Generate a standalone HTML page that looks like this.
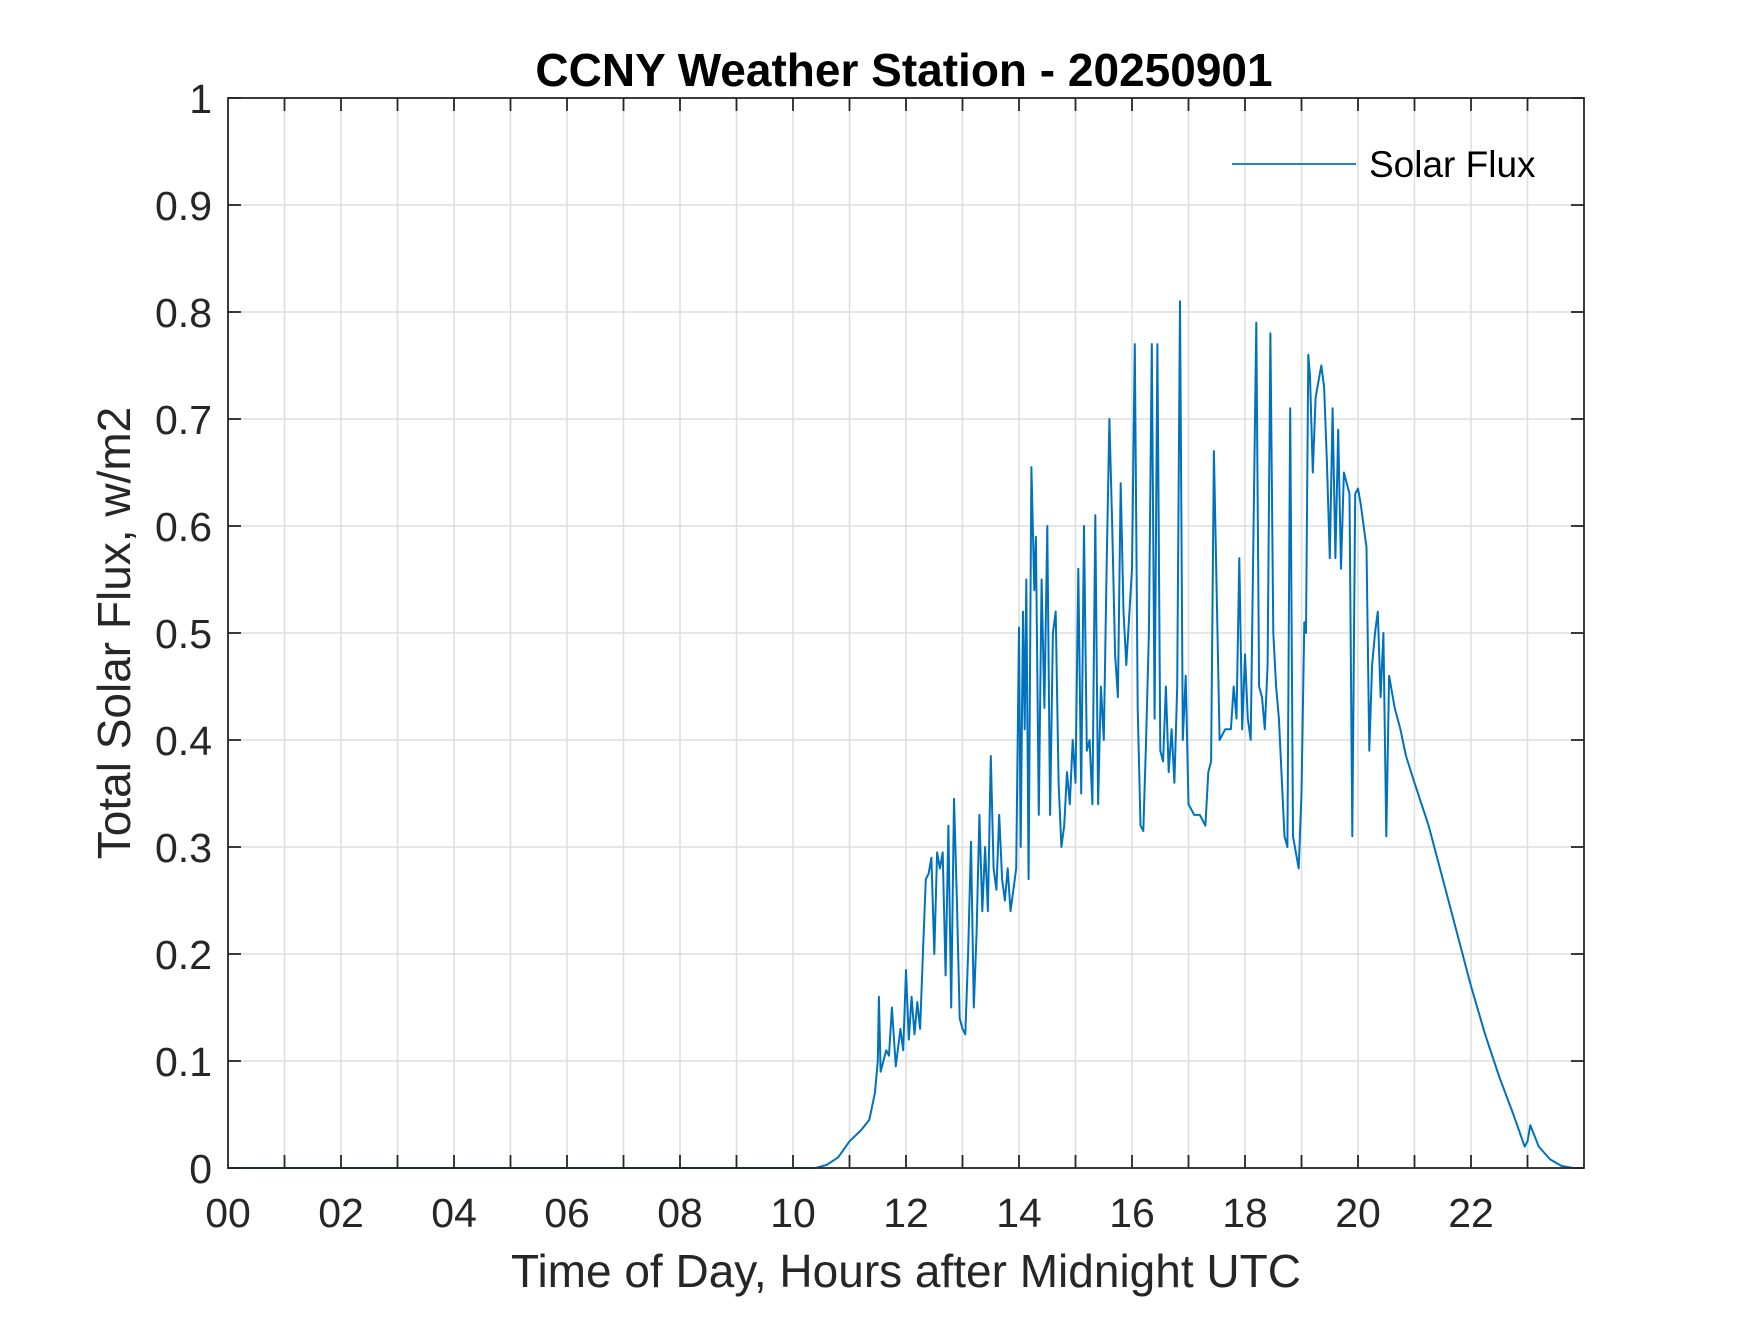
<!DOCTYPE html>
<html><head><meta charset="utf-8"><style>
body{margin:0;background:#fff;}
svg text{font-family:"Liberation Sans",Arial,sans-serif;fill:#262626;}
</style></head><body>
<svg id="chart" width="1750" height="1313" xmlns="http://www.w3.org/2000/svg">
<rect width="1750" height="1313" fill="#fff"/>
<g id="grid"></g>
<g id="series"></g>
<g id="axes"></g>
<text x="904" y="86" text-anchor="middle" font-size="46" font-weight="bold" style="fill:#000">CCNY Weather Station - 20250901</text>
<text x="906" y="1287" text-anchor="middle" font-size="46">Time of Day, Hours after Midnight UTC</text>
<text transform="translate(130,633) rotate(-90)" text-anchor="middle" font-size="46">Total Solar Flux, w/m2</text>
<g>
<line x1="1232" y1="164" x2="1356" y2="164" stroke="#0072BD" stroke-width="1.8"/>
<text x="1369" y="177" font-size="37" style="fill:#000">Solar Flux</text>
</g>
</svg>
<script>
const hours=[0,10.4,10.6,10.8,11.0,11.2,11.35,11.45,11.5,11.52,11.55,11.65,11.7,11.75,11.82,11.9,11.95,12.0,12.05,12.1,12.15,12.2,12.25,12.3,12.35,12.4,12.45,12.5,12.55,12.6,12.65,12.7,12.75,12.8,12.85,12.9,12.95,13.0,13.05,13.1,13.15,13.2,13.25,13.3,13.35,13.4,13.45,13.5,13.55,13.6,13.65,13.7,13.75,13.8,13.85,13.9,13.95,14.0,14.03,14.07,14.1,14.13,14.17,14.22,14.27,14.3,14.35,14.4,14.45,14.5,14.55,14.6,14.65,14.7,14.75,14.8,14.85,14.9,14.95,15.0,15.05,15.1,15.15,15.2,15.25,15.3,15.35,15.4,15.45,15.5,15.55,15.6,15.65,15.7,15.75,15.8,15.85,15.9,16.0,16.05,16.1,16.15,16.2,16.25,16.3,16.35,16.4,16.45,16.5,16.55,16.6,16.65,16.7,16.75,16.8,16.85,16.9,16.95,17.0,17.1,17.2,17.3,17.35,17.4,17.45,17.55,17.65,17.75,17.8,17.85,17.9,17.95,18.0,18.05,18.1,18.2,18.25,18.3,18.35,18.4,18.45,18.5,18.55,18.6,18.7,18.75,18.8,18.85,18.95,19.0,19.05,19.08,19.12,19.15,19.2,19.25,19.35,19.4,19.45,19.5,19.55,19.6,19.65,19.7,19.75,19.8,19.85,19.9,19.95,20.0,20.05,20.15,20.2,20.25,20.3,20.35,20.4,20.45,20.5,20.55,20.65,20.75,20.85,21.0,21.25,21.5,21.75,22.0,22.25,22.5,22.75,22.95,23.0,23.05,23.2,23.4,23.6,23.8,24];
const flux=[0,0,0.003,0.01,0.025,0.035,0.045,0.07,0.1,0.16,0.09,0.11,0.105,0.15,0.095,0.13,0.11,0.185,0.12,0.16,0.125,0.155,0.13,0.2,0.27,0.275,0.29,0.2,0.295,0.28,0.295,0.18,0.32,0.15,0.345,0.25,0.14,0.13,0.125,0.2,0.305,0.15,0.22,0.33,0.24,0.3,0.24,0.385,0.28,0.26,0.33,0.27,0.25,0.28,0.24,0.26,0.28,0.505,0.3,0.52,0.41,0.55,0.27,0.655,0.54,0.59,0.33,0.55,0.43,0.6,0.33,0.5,0.52,0.36,0.3,0.32,0.37,0.34,0.4,0.36,0.56,0.35,0.6,0.39,0.4,0.34,0.61,0.34,0.45,0.4,0.56,0.7,0.6,0.48,0.44,0.64,0.52,0.47,0.56,0.77,0.43,0.32,0.315,0.4,0.5,0.77,0.42,0.77,0.39,0.38,0.45,0.37,0.41,0.36,0.45,0.81,0.4,0.46,0.34,0.33,0.33,0.32,0.37,0.38,0.67,0.4,0.41,0.41,0.45,0.42,0.57,0.41,0.48,0.42,0.4,0.79,0.45,0.44,0.41,0.47,0.78,0.5,0.45,0.42,0.31,0.3,0.71,0.31,0.28,0.35,0.51,0.5,0.76,0.74,0.65,0.72,0.75,0.73,0.66,0.57,0.71,0.57,0.69,0.56,0.65,0.64,0.63,0.31,0.63,0.635,0.62,0.58,0.39,0.47,0.5,0.52,0.44,0.5,0.31,0.46,0.43,0.41,0.385,0.36,0.32,0.27,0.22,0.17,0.125,0.085,0.05,0.02,0.025,0.04,0.02,0.008,0.002,0,0];
const xTickLabels=["00","02","04","06","08","10","12","14","16","18","20","22"];
const yTickLabels=["0","0.1","0.2","0.3","0.4","0.5","0.6","0.7","0.8","0.9","1"];

const L=228,R=1584,T=98,B=1168;
const xs=h=>L+(R-L)*h/24;
const ys=v=>B-(B-T)*v;
const NS="http://www.w3.org/2000/svg";
function mk(tag,attrs,parent){const e=document.createElementNS(NS,tag);for(const k in attrs)e.setAttribute(k,attrs[k]);parent.appendChild(e);return e;}
const grid=document.getElementById('grid'),axes=document.getElementById('axes'),series=document.getElementById('series');
for(let h=1;h<24;h++){
  const g=mk('line',{x1:xs(h),x2:xs(h),y1:T,y2:B,stroke:'#dedede','stroke-width':1.5},grid);
  
  
  const t1=mk('line',{x1:xs(h),x2:xs(h),y1:B,y2:B-13,stroke:'#262626','stroke-width':1.8},axes);
  
  
  const t2=mk('line',{x1:xs(h),x2:xs(h),y1:T,y2:T+13,stroke:'#262626','stroke-width':1.8},axes);
  
  
}
xTickLabels.forEach((lab,i)=>{
  const t=mk('text',{x:xs(i*2),y:1227,'text-anchor':'middle','font-size':41},axes);
  t.textContent=lab;
  
  
});
yTickLabels.forEach((lab,i)=>{
  const v=parseFloat(lab);
  if(i>0&&i<10){
    const g=mk('line',{x1:L,x2:R,y1:ys(v),y2:ys(v),stroke:'#dedede','stroke-width':1.5},grid);
    
    
  }
  const t1=mk('line',{x1:L,x2:L+13,y1:ys(v),y2:ys(v),stroke:'#262626','stroke-width':1.8},axes);
  
  
  const t2=mk('line',{x1:R,x2:R-13,y1:ys(v),y2:ys(v),stroke:'#262626','stroke-width':1.8},axes);
  
  
  const t=mk('text',{x:L-16,y:ys(v)+15,'text-anchor':'end','font-size':41},axes);
  t.textContent=lab;
  
  
});
const box=mk('rect',{x:L,y:T,width:R-L,height:B-T,fill:'none',stroke:'#262626','stroke-width':1.8},axes);


const pts=hours.map((h,i)=>xs(h).toFixed(1)+','+ys(flux[i]).toFixed(1)).join(' ');
const line=mk('polyline',{points:pts,fill:'none',stroke:'#0072BD','stroke-width':2,'stroke-linejoin':'round'},series);


</script>
</body></html>
